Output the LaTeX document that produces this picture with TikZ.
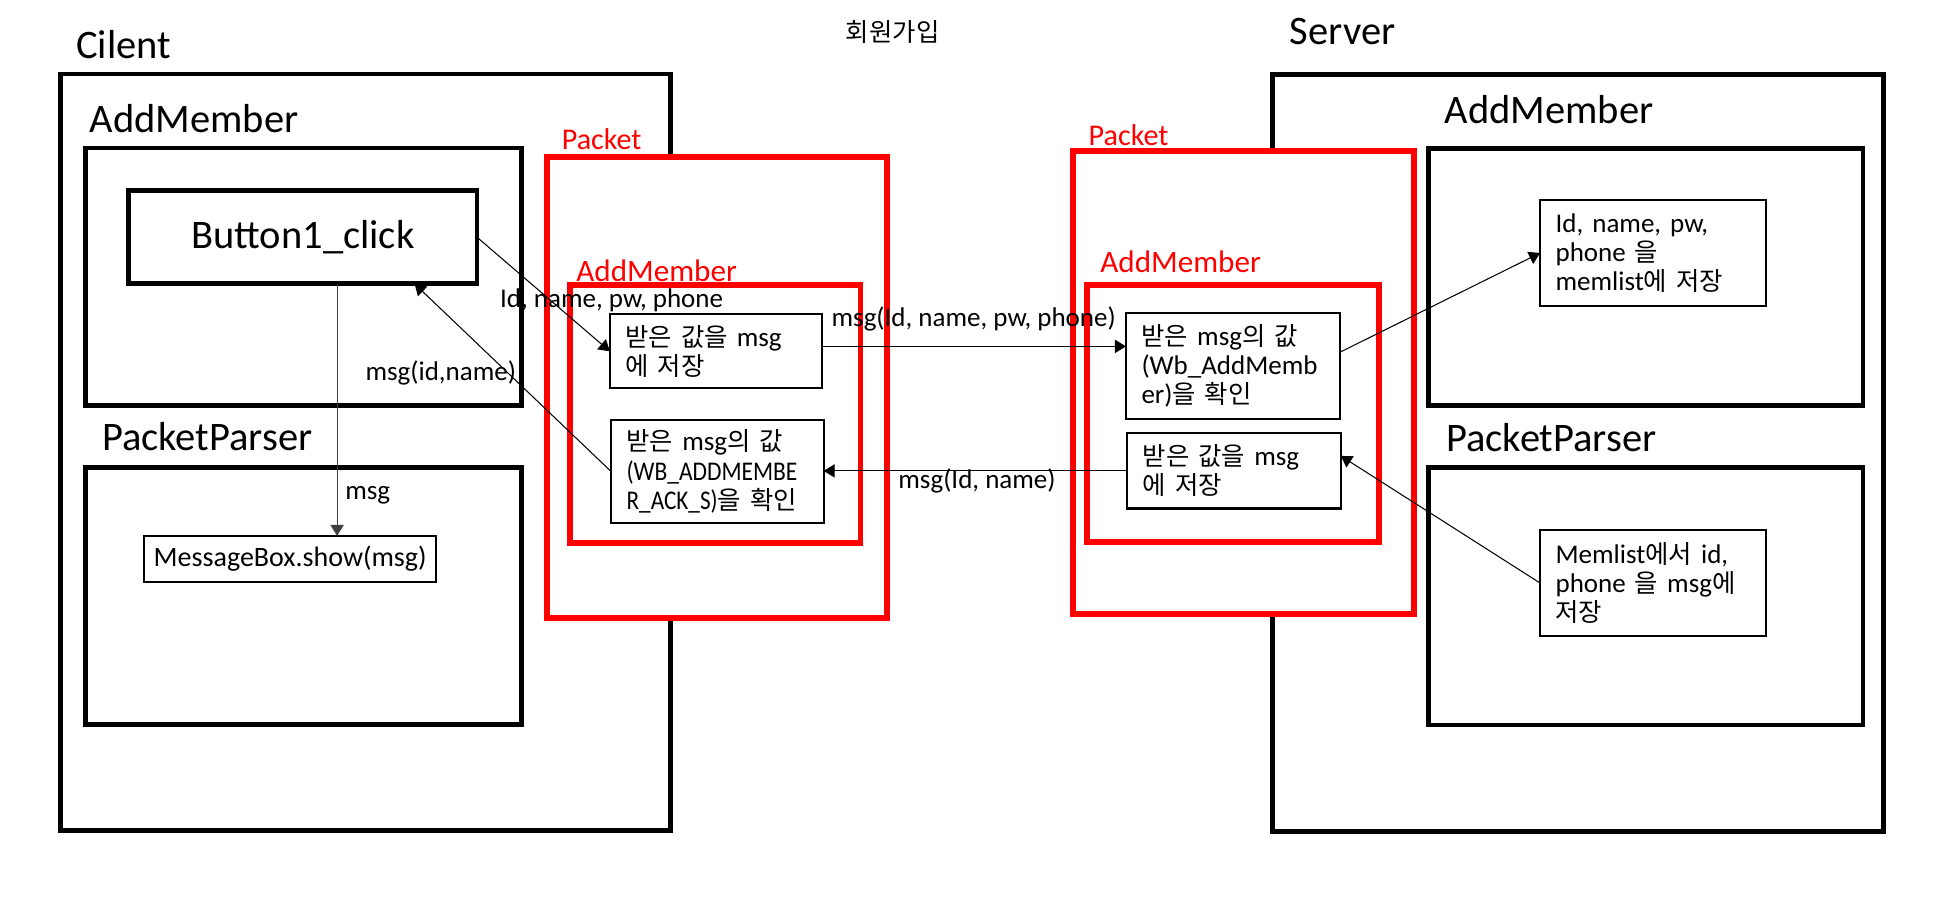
\documentclass[tikz,border=0pt]{standalone}
\usepackage{fontspec}
\usepackage{graphicx}
\setmainfont{Carlito}
\newfontfamily\kr[Scale=0.94,WordSpace=1.8]{Noto Sans CJK KR}
\usetikzlibrary{arrows.meta,calc}
\begin{document}
\begin{tikzpicture}[x=0.6pt,y=-0.6pt,
  frame/.style={draw, line width=2.3pt, anchor=north west, inner sep=0pt, outer sep=0pt},
  redframe/.style={draw=red, line width=2.8pt, fill=white, anchor=north west, inner sep=0pt, outer sep=0pt},
  textbox/.style={draw, line width=1pt, anchor=north west, align=left, inner xsep=7.5pt, inner ysep=0pt, outer sep=0pt, font=\fontsize{13}{14}\selectfont},
  biglabel/.style={anchor=base west, inner sep=0pt, font=\fontsize{19.5}{22}\selectfont},
  redlabel/.style={anchor=base west, inner sep=0pt, text=red},
  edgelabel/.style={anchor=base west, inner sep=0pt, font=\fontsize{13}{15}\selectfont},
  arr/.style={-{Triangle[length=5.3pt,width=6.4pt]}, line width=0.5pt}
]
\useasboundingbox (0,0) rectangle (1568,730);

% title
\node[anchor=base west, inner sep=0pt, font=\fontsize{13}{15}\selectfont] (title) at (678.5,33.5) {\kr 회원가입};

% ---------- Client ----------
\node[biglabel] (clientlbl) at (60.9,46.8) {Cilent};
\node[frame, minimum width=293.8pt, minimum height=364.3pt] (client) at (48.3,59.3) {};
\node[biglabel] (caddlbl) at (71.7,106.2) {AddMember};
\node[frame, minimum width=210pt, minimum height=124.1pt] (cadd) at (68.4,118.7) {};
\node[biglabel] (cpplbl) at (81.7,361.1) {PacketParser};
\node[frame, minimum width=210pt, minimum height=123.8pt] (cpp) at (68.4,375) {};
\node[frame, minimum width=167.6pt, minimum height=45pt, font=\fontsize{19.5}{22}\selectfont] (btn) at (103.4,152.8) {Button1\_click};
\node[draw, line width=1pt, anchor=north west, inner sep=0pt, outer sep=0pt, minimum width=140.6pt, minimum height=22.2pt, font=\fontsize{13.5}{15}\selectfont] (msgbox) at (115.7,430) {MessageBox.show(msg)};

% ---------- Server ----------
\node[biglabel] (serverlbl) at (1034.8,36.1) {Server};
\node[frame, minimum width=293.9pt, minimum height=364.8pt] (server) at (1021.3,59.5) {};
\node[biglabel] (saddlbl) at (1158.9,99) {AddMember};
\node[frame, minimum width=209.3pt, minimum height=123.9pt] (sadd) at (1146.1,118.9) {};
\node[biglabel] (spplbl) at (1160.2,362.4) {PacketParser};
\node[frame, minimum width=209.3pt, minimum height=124pt] (spp) at (1146.1,375.1) {};
\node[textbox, text width=93.7pt, minimum height=50.9pt] (s1) at (1235.8,160.6)
  {Id, name, pw,\\phone {\kr 을}\\\mbox{memlist{\kr 에 저장}}};
\node[textbox, text width=93.7pt, minimum height=50.9pt] (s2) at (1235.8,425.4)
  {\mbox{Memlist{\kr 에서} id,}\\\mbox{phone {\kr 을} msg{\kr 에}}\\{\kr 저장}};

% ---------- Packet (left) ----------
\node[redframe, minimum width=163.8pt, minimum height=221.9pt] (lpacket) at (438.7,126.1) {};
\node[redlabel, font=\fontsize{14.5}{16}\selectfont] (lpacketlbl) at (450.5,119.8) {Packet};
\node[redframe, minimum width=139.9pt, minimum height=124pt] (ladd) at (457.3,228.9) {};
\node[redlabel, font=\fontsize{15}{17}\selectfont] (laddlbl) at (462.2,226) {AddMember};
\node[textbox, text width=87pt, minimum height=35.7pt] (a1) at (489.4,252.2)
  {\mbox{{\kr 받은 값을} msg}\\{\kr 에 저장}};
\node[textbox, text width=87.4pt, minimum height=49.3pt] (a2) at (490.3,337.2)
  {\mbox{{\kr 받은} msg{\kr 의 값}}\\\scalebox{0.87}[1]{(WB\_ADDMEMBE}\\\mbox{\scalebox{0.86}[1]{R\_ACK\_S)}{\kr 을 확인}}};

% ---------- Packet (right) ----------
\node[redframe, minimum width=163.9pt, minimum height=223pt] (rpacket) at (861.3,121.3) {};
\node[redlabel, font=\fontsize{14.5}{16}\selectfont] (rpacketlbl) at (873.3,116.4) {Packet};
\node[redframe, minimum width=140.5pt, minimum height=123.8pt] (radd) at (872.3,228.9) {};
\node[redlabel, font=\fontsize{15}{17}\selectfont] (raddlbl) at (882.7,218.8) {AddMember};
\node[textbox, text width=88.1pt, minimum height=51.1pt] (b1) at (903.5,251)
  {\mbox{{\kr 받은} msg{\kr 의 값}}\\(Wb\_AddMemb\\\mbox{er){\kr 을 확인}}};
\node[textbox, text width=87.8pt, minimum height=36.2pt] (b2) at (904.6,347.7)
  {\mbox{{\kr 받은 값을} msg}\\{\kr 에 저장}};

% ---------- connectors ----------
\coordinate (vx) at (270.5,0);
\draw[arr, draw=black!75] (btn.south -| vx) -- (msgbox.north -| vx);
\draw[arr] (btn.east) -- (a1.west);
\draw[arr] (a2.west) -- ($(btn.south east)+(-50,0)$);
\coordinate (p1) at ($(a1.east)+(0,-4)$);
\draw[arr] (p1) -- (p1 -| b1.west);
\draw[arr] (b2.west) -- (b2.west -| a2.east);
\draw[arr] ($(b1.east)+(0,-11)$) -- (s1.west);
\draw[arr] (s2.west) -- ($(b2.east)+(0,-12)$);

% ---------- connector labels ----------
\node[edgelabel] (l1) at (401,247) {Id, name, pw, phone};
\node[edgelabel] (l2) at (293,305) {msg(id,name)};
\node[edgelabel] (l3) at (276.8,401.2) {msg};
\node[edgelabel] (l4) at (667,262) {msg(Id, name, pw, phone)};
\node[edgelabel] (l5) at (720.6,391.9) {msg(Id, name)};
\end{tikzpicture}
\end{document}
